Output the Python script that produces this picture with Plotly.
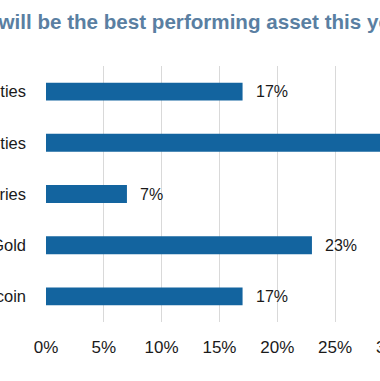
import plotly.graph_objects as go

categories = ["Commodities", "Equities", "Treasuries", "Gold", "Bitcoin"]
values = [17, 36, 7, 23, 17]
tick_vals = [0, 5, 10, 15, 20, 25, 30]
tick_text = ["0%", "5%", "10%", "15%", "20%", "25%", "30%"]
title_text = "Which will be the best performing asset this year?"

W, H = 380, 381
left_px, top_px, bottom_px = 45.5, 66, 322
px_per_unit = 11.58
x_max = (W - left_px) / px_per_unit

font_fam = "Arial, Liberation Sans, sans-serif"
bar_color = "#13649f"
title_color = "#5a7fa2"
text_color = "#1a1a1a"

fig = go.Figure()
fig.add_trace(go.Bar(
    y=categories, x=values, orientation="h",
    marker=dict(color=bar_color, line=dict(width=0)),
    width=0.35, hoverinfo="skip",
))

annotations = []
for c, v in zip(categories, values):
    if v <= x_max:
        annotations.append(dict(
            x=v, y=c, xref="x", yref="y", text=f"{v}%", showarrow=False,
            xanchor="left", xshift=11, font=dict(size=16, color=text_color, family=font_fam),
        ))
# tick labels beyond the visible right edge (partially visible)
for tv, tt in zip(tick_vals, tick_text):
    if tv > x_max:
        annotations.append(dict(
            x=tv / x_max, y=0, xref="paper", yref="paper", text=tt, showarrow=False,
            xanchor="center", yanchor="top", yshift=-14,
            font=dict(size=17, color=text_color, family=font_fam),
        ))

# title: "Which " falls off the left edge, "will" starts near x=2
title_x = (-71.5 - left_px) / (W - left_px)
title_y = 1 + (top_px - 21) / (bottom_px - top_px)
annotations.append(dict(
    x=title_x, y=title_y, xref="paper", yref="paper", text="<b>" + title_text + "</b>",
    showarrow=False, xanchor="left", yanchor="middle",
    font=dict(size=20.6, color=title_color, family=font_fam),
))

fig.update_layout(
    width=W, height=H,
    margin=dict(l=left_px, r=0, t=top_px, b=H - bottom_px, autoexpand=False),
    paper_bgcolor="white", plot_bgcolor="white",
    showlegend=False,
    xaxis=dict(range=[0, x_max], tickvals=tick_vals, ticktext=tick_text,
               showgrid=True, gridcolor="#d9d9d9", gridwidth=1, zeroline=False,
               showline=False, ticks="", ticklabelstandoff=13,
               tickfont=dict(size=17, color=text_color, family=font_fam), fixedrange=True),
    yaxis=dict(categoryorder="array", categoryarray=categories, autorange="reversed",
               showgrid=False, zeroline=False, showline=False, ticks="",
               ticklabelstandoff=19, automargin=False,
               tickfont=dict(size=16.5, color=text_color, family=font_fam), fixedrange=True),
    annotations=annotations,
)

fig.write_html("out.html", config={"displayModeBar": False},
               post_script="document.body.style.margin='0';document.body.style.overflow='hidden';")
